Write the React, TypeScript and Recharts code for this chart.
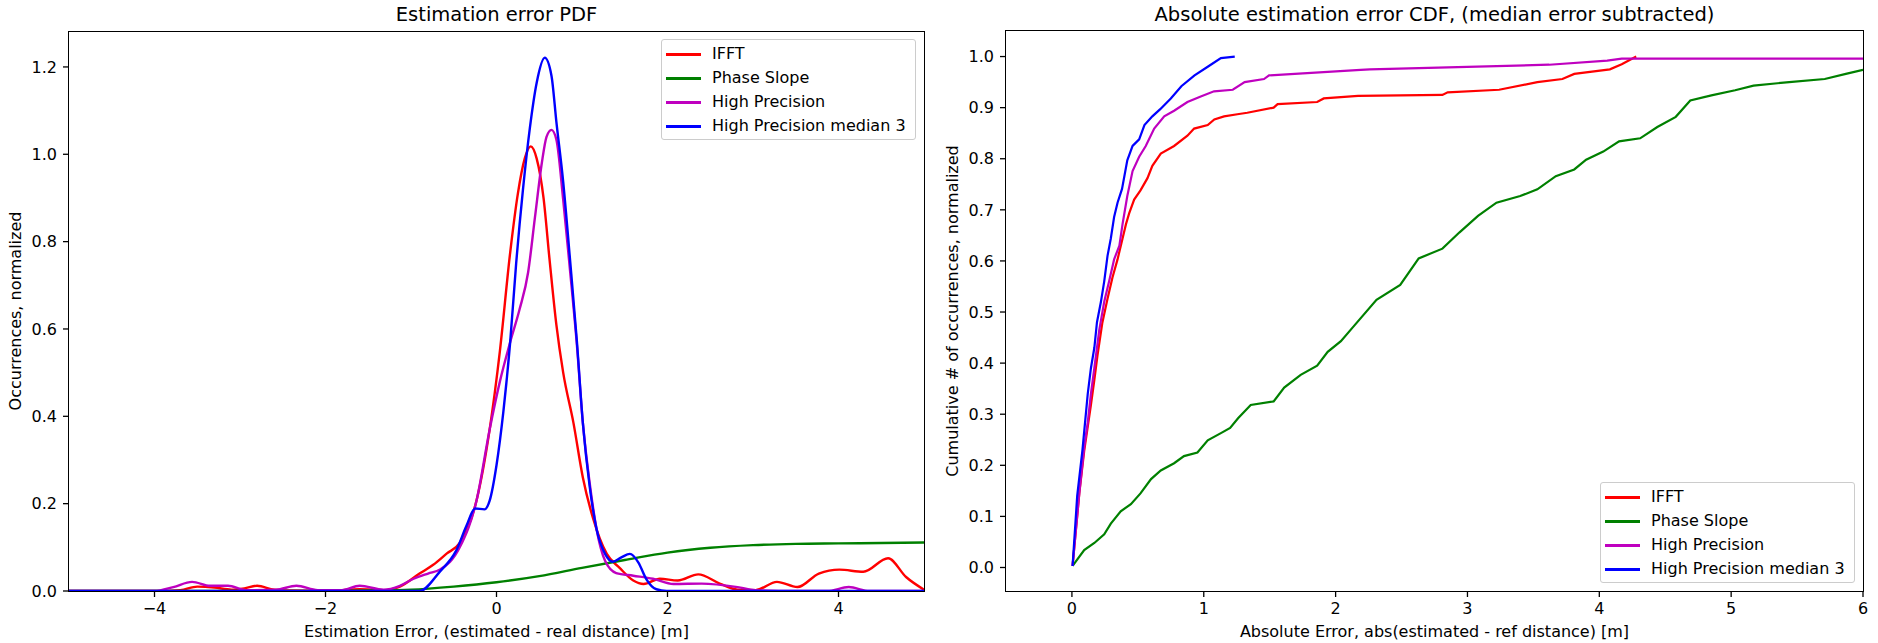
import { LineChart, Line, XAxis, YAxis } from "recharts";

const FONT = '"DejaVu Sans", sans-serif';

const seriesNames = ["IFFT", "Phase Slope", "High Precision", "High Precision median 3"];
const seriesColors = ["#ff0000", "#008000", "#bf00bf", "#0000ff"];

// left panel: estimation error PDF
const pdfXTicks = [-4, -2, 0, 2, 4];
const pdfYTicks = [0, 0.2, 0.4, 0.6, 0.8, 1.0, 1.2];

const pdfIfftX = [-5, -4, -3.7, -3.5, -3.3, -3.1, -2.95, -2.8, -2.6, -2.4, -2.0, -1.6, -1.3, -1.13, -0.9, -0.74, -0.58, -0.43, -0.23, -0.08, 0.04, 0.16, 0.25, 0.33, 0.4, 0.47, 0.55, 0.62, 0.7, 0.78, 0.9, 1.01, 1.13, 1.29, 1.44, 1.6, 1.72, 1.91, 2.12, 2.36, 2.61, 2.82, 3.03, 3.28, 3.52, 3.77, 4.01, 4.29, 4.58, 4.79, 5.0];
const pdfIfftY = [0, 0, 0.002, 0.01, 0.008, 0.003, 0.006, 0.012, 0.003, 0.001, 0, 0.004, 0.002, 0.01, 0.04, 0.06, 0.086, 0.11, 0.21, 0.37, 0.55, 0.775, 0.91, 0.99, 1.018, 0.99, 0.9, 0.76, 0.61, 0.5, 0.385, 0.26, 0.166, 0.085, 0.053, 0.024, 0.016, 0.028, 0.024, 0.038, 0.017, 0.003, 0.002, 0.021, 0.009, 0.04, 0.049, 0.044, 0.075, 0.032, 0.003];

const pdfPhaseX = [-5, -2, -1.5, -1, -0.5, 0, 0.5, 1, 1.5, 2, 2.5, 3, 3.5, 4, 4.5, 5];
const pdfPhaseY = [0, 0, 0.001, 0.003, 0.01, 0.02, 0.034, 0.053, 0.071, 0.088, 0.099, 0.105, 0.108, 0.109, 0.11, 0.111];

const pdfHpX = [-5, -4, -3.78, -3.56, -3.35, -3.14, -2.93, -2.58, -2.34, -2.09, -1.81, -1.6, -1.32, -1.13, -0.97, -0.8, -0.66, -0.43, -0.23, -0.08, 0.04, 0.16, 0.27, 0.37, 0.45, 0.53, 0.585, 0.643, 0.7, 0.78, 0.86, 0.94, 1.01, 1.09, 1.17, 1.27, 1.4, 1.6, 1.83, 2.07, 2.4, 2.82, 3.03, 3.5, 3.87, 4.12, 4.36, 5];
const pdfHpY = [0, 0, 0.009, 0.021, 0.012, 0.012, 0.002, 0.003, 0.012, 0.002, 0.002, 0.012, 0.003, 0.012, 0.028, 0.04, 0.049, 0.1, 0.21, 0.37, 0.48, 0.57, 0.645, 0.73, 0.856, 0.98, 1.04, 1.056, 1.034, 0.896, 0.734, 0.564, 0.385, 0.247, 0.142, 0.069, 0.041, 0.035, 0.028, 0.016, 0.017, 0.009, 0.002, 0, 0, 0.009, 0, 0];

const pdfHpMedX = [-5, -0.9, -0.66, -0.47, -0.35, -0.25, -0.14, -0.08, 0, 0.08, 0.16, 0.23, 0.31, 0.39, 0.47, 0.565, 0.643, 0.7, 0.78, 0.86, 0.94, 1.01, 1.09, 1.17, 1.27, 1.36, 1.46, 1.56, 1.66, 1.75, 1.87, 1.99, 5];
const pdfHpMedY = [0, 0, 0.045, 0.093, 0.15, 0.189, 0.187, 0.207, 0.288, 0.41, 0.57, 0.75, 0.92, 1.06, 1.164, 1.221, 1.18, 1.075, 0.937, 0.759, 0.572, 0.385, 0.239, 0.142, 0.085, 0.067, 0.077, 0.085, 0.065, 0.028, 0.004, 0, 0];

// right panel: absolute error CDF
const cdfXTicks = [0, 1, 2, 3, 4, 5, 6];
const cdfYTicks = [0, 0.1, 0.2, 0.3, 0.4, 0.5, 0.6, 0.7, 0.8, 0.9, 1.0];

const cdfIfftX = [0.005, 0.056, 0.093, 0.144, 0.17, 0.194, 0.23, 0.27, 0.308, 0.346, 0.384, 0.41, 0.434, 0.472, 0.52, 0.573, 0.61, 0.674, 0.775, 0.876, 0.927, 1.03, 1.08, 1.154, 1.255, 1.33, 1.53, 1.56, 1.86, 1.91, 2.17, 2.81, 2.85, 3.24, 3.53, 3.72, 3.81, 4.08, 4.17, 4.28];
const cdfIfftY = [0.003, 0.145, 0.228, 0.318, 0.367, 0.415, 0.478, 0.526, 0.568, 0.603, 0.644, 0.672, 0.693, 0.72, 0.738, 0.762, 0.786, 0.81, 0.825, 0.845, 0.859, 0.866, 0.877, 0.883, 0.887, 0.89, 0.9, 0.907, 0.911, 0.918, 0.923, 0.925, 0.93, 0.935, 0.95, 0.956, 0.966, 0.975, 0.985, 1.0];

const cdfPhaseX = [0.005, 0.093, 0.17, 0.245, 0.295, 0.37, 0.447, 0.52, 0.6, 0.674, 0.775, 0.85, 0.952, 1.03, 1.13, 1.2, 1.26, 1.356, 1.53, 1.61, 1.735, 1.86, 1.94, 2.04, 2.13, 2.31, 2.49, 2.63, 2.81, 2.94, 3.08, 3.22, 3.4, 3.53, 3.67, 3.81, 3.9, 4.03, 4.15, 4.31, 4.44, 4.58, 4.69, 4.85, 5.03, 5.17, 5.44, 5.71, 5.87, 6.0];
const cdfPhaseY = [0.003, 0.034, 0.048, 0.065, 0.086, 0.11, 0.124, 0.145, 0.173, 0.19, 0.204, 0.218, 0.225, 0.249, 0.263, 0.273, 0.292, 0.318, 0.325, 0.352, 0.377, 0.395, 0.422, 0.443, 0.47, 0.524, 0.553, 0.605, 0.624, 0.656, 0.688, 0.714, 0.727, 0.74, 0.766, 0.779, 0.798, 0.814, 0.834, 0.84, 0.862, 0.882, 0.914, 0.924, 0.934, 0.943, 0.95, 0.956, 0.966, 0.974];

const cdfHpX = [0.005, 0.056, 0.093, 0.12, 0.144, 0.17, 0.207, 0.245, 0.283, 0.32, 0.36, 0.384, 0.42, 0.46, 0.51, 0.56, 0.624, 0.7, 0.775, 0.876, 0.977, 1.078, 1.22, 1.31, 1.457, 1.495, 2.19, 2.26, 3.62, 4.06, 4.17, 6.0];
const cdfHpY = [0.003, 0.145, 0.235, 0.284, 0.34, 0.39, 0.464, 0.52, 0.561, 0.603, 0.63, 0.672, 0.727, 0.776, 0.804, 0.825, 0.859, 0.883, 0.894, 0.911, 0.922, 0.932, 0.935, 0.95, 0.956, 0.963, 0.974, 0.975, 0.984, 0.992, 0.996, 0.996];

const cdfHpMedX = [0.005, 0.04, 0.08, 0.12, 0.144, 0.17, 0.19, 0.22, 0.245, 0.27, 0.295, 0.32, 0.346, 0.38, 0.42, 0.46, 0.51, 0.55, 0.61, 0.67, 0.75, 0.83, 0.93, 1.03, 1.13, 1.235];
const cdfHpMedY = [0.003, 0.14, 0.23, 0.34, 0.39, 0.43, 0.48, 0.52, 0.56, 0.61, 0.644, 0.686, 0.714, 0.741, 0.797, 0.825, 0.838, 0.866, 0.883, 0.897, 0.918, 0.942, 0.963, 0.98, 0.997, 1.0];

const pts = (xs: number[], ys: number[]) => xs.map((x, i) => ({ x, y: ys[i] }));

const pdfSeries = [pts(pdfIfftX, pdfIfftY), pts(pdfPhaseX, pdfPhaseY), pts(pdfHpX, pdfHpY), pts(pdfHpMedX, pdfHpMedY)];
const cdfSeries = [pts(cdfIfftX, cdfIfftY), pts(cdfPhaseX, cdfPhaseY), pts(cdfHpX, cdfHpY), pts(cdfHpMedX, cdfHpMedY)];

const minus = (v: number) => String(v).replace("-", "\u2212");
const tickStyle = { fontSize: 16, fill: "#000", fontFamily: FONT };

function LegendBox({ left, top }: { left: number; top: number }) {
  return (
    <div
      style={{
        position: "absolute", left, top, width: 255, height: 101, boxSizing: "border-box",
        border: "1px solid #cccccc", borderRadius: 3, background: "rgba(255,255,255,0.8)",
      }}
    >
      {seriesNames.map((name, i) => (
        <div key={name} style={{ position: "absolute", left: 0, top: 14 + i * 24, height: 0 }}>
          <div style={{ position: "absolute", left: 4, top: -1.5, width: 35, height: 3, background: seriesColors[i] }} />
          <div style={{ position: "absolute", left: 50, top: -10, fontSize: 16, lineHeight: "20px", whiteSpace: "nowrap", color: "#000" }}>
            {name}
          </div>
        </div>
      ))}
    </div>
  );
}

function Frame({ left, top, width, height }: { left: number; top: number; width: number; height: number }) {
  return (
    <div style={{ position: "absolute", left: left - 0.7, top: top - 0.7, width, height, border: "1.4px solid #000", pointerEvents: "none" }} />
  );
}

function Text({ x, y, size, rotate, children }: { x: number; y: number; size: number; rotate?: boolean; children: string }) {
  return (
    <div
      style={{
        position: "absolute", left: x, top: y, fontSize: size, lineHeight: 1, whiteSpace: "nowrap", color: "#000",
        transform: `translate(-50%, -50%)${rotate ? " rotate(-90deg)" : ""}`,
      }}
    >
      {children}
    </div>
  );
}

export default function App() {
  return (
    <div style={{ position: "absolute", left: 0, top: 0, width: 1878, height: 643, background: "#fff", fontFamily: FONT }}>
      <div style={{ position: "absolute", left: 0, top: 0 }}>
        <LineChart width={939} height={643} margin={{ top: 32, right: 15, bottom: 22, left: 0 }}>
          <XAxis
            dataKey="x" type="number" domain={[-5, 5]} ticks={pdfXTicks} allowDataOverflow
            axisLine={false} tickLine={{ stroke: "#000", strokeWidth: 1.3 }} tickSize={6} tickMargin={6}
            tick={tickStyle} tickFormatter={minus} height={30}
          />
          <YAxis
            type="number" domain={[0, 1.28]} ticks={pdfYTicks} allowDataOverflow
            axisLine={false} tickLine={{ stroke: "#000", strokeWidth: 1.3 }} tickSize={6} tickMargin={6}
            tick={tickStyle} tickFormatter={(v: number) => v.toFixed(1)} width={69}
          />
          {pdfSeries.map((d, i) => (
            <Line
              key={seriesNames[i]} data={d} dataKey="y" type="monotone" stroke={seriesColors[i]} strokeWidth={2.4}
              dot={false} activeDot={false} isAnimationActive={false}
            />
          ))}
        </LineChart>
      </div>
      <div style={{ position: "absolute", left: 940, top: 0 }}>
        <LineChart width={938} height={643} margin={{ top: 31, right: 15, bottom: 22, left: 0 }}>
          <XAxis
            dataKey="x" type="number" domain={[-0.5, 6]} ticks={cdfXTicks} allowDataOverflow
            axisLine={false} tickLine={{ stroke: "#000", strokeWidth: 1.3 }} tickSize={6} tickMargin={6}
            tick={tickStyle} height={30}
          />
          <YAxis
            type="number" domain={[-0.046, 1.05]} ticks={cdfYTicks} allowDataOverflow
            axisLine={false} tickLine={{ stroke: "#000", strokeWidth: 1.3 }} tickSize={6} tickMargin={6}
            tick={tickStyle} tickFormatter={(v: number) => v.toFixed(1)} width={66}
          />
          {cdfSeries.map((d, i) => (
            <Line
              key={seriesNames[i]} data={d} dataKey="y" type="linear" stroke={seriesColors[i]} strokeWidth={2.2}
              dot={false} activeDot={false} isAnimationActive={false}
            />
          ))}
        </LineChart>
      </div>

      <Frame left={69} top={32} width={855} height={559} />
      <Frame left={1006} top={31} width={857} height={560} />

      <LegendBox left={661} top={39} />
      <LegendBox left={1600} top={482} />

      <Text x={496.5} y={15} size={19.5}>Estimation error PDF</Text>
      <Text x={1434.5} y={15} size={19.5}>Absolute estimation error CDF, (median error subtracted)</Text>
      <Text x={496.5} y={632} size={16}>Estimation Error, (estimated - real distance) [m]</Text>
      <Text x={1434.5} y={632} size={16}>Absolute Error, abs(estimated - ref distance) [m]</Text>
      <Text x={16} y={311} size={16} rotate>Occurrences, normalized</Text>
      <Text x={953} y={311} size={16} rotate>Cumulative # of occurrences, normalized</Text>
    </div>
  );
}
